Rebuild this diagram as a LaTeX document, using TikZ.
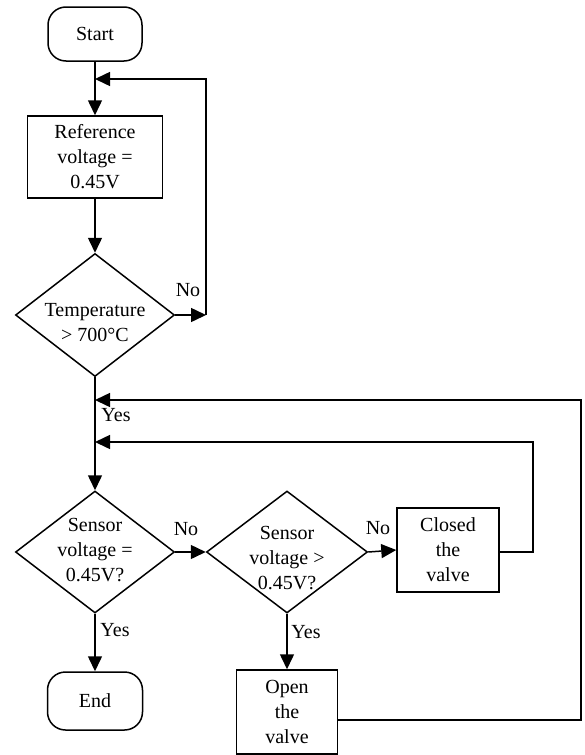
\documentclass[tikz,border=0pt]{standalone}
\usepackage{fontspec}
\setmainfont{Liberation Serif}
\usetikzlibrary{shapes.geometric,arrows.meta}
\begin{document}
\begin{tikzpicture}[x=1pt,y=-1pt,line width=1.5pt,
  font=\fontsize{20}{25}\selectfont,
  term/.style={draw,rectangle,rounded corners=18pt,inner sep=0pt,align=center},
  proc/.style={draw,rectangle,inner sep=0pt,align=center},
  dec/.style={draw,diamond,inner sep=0pt},
  txt/.style={inner sep=0pt,align=center},
  lbl/.style={inner sep=0pt},
  arr/.style={-{Triangle[length=15pt,width=14pt]}}]
\useasboundingbox (0,0) rectangle (584,755);
% nodes
\node[term,minimum width=94pt,minimum height=54pt] (start) at (95,34) {Start};
\node[proc,minimum width=135pt,minimum height=82pt] (ref) at (95,157) {Reference\\voltage =\\0.45V};
\node[dec,minimum width=159pt,minimum height=123pt] (temp) at (95,315) {};
\node[txt] (tempt) at (95,323) {Temperature\\> 700°C};
\node[dec,minimum width=159pt,minimum height=122pt] (s1) at (95,552) {};
\node[txt] (s1t) at (95,550) {Sensor\\voltage =\\0.45V?};
\node[dec,minimum width=161pt,minimum height=122pt] (s2) at (287,552) {};
\node[txt] (s2t) at (287,558) {Sensor\\voltage >\\0.45V?};
\node[proc,minimum width=102pt,minimum height=84pt] (closed) at (448,550) {Closed\\the\\valve};
\node[proc,minimum width=101pt,minimum height=84pt] (open) at (287,712) {Open\\the\\valve};
\node[term,minimum width=95pt,minimum height=58pt] (end) at (95,701) {End};
% labels
\node[lbl] (no1) at (188,290) {No};
\node[lbl] (yes1) at (116,415) {Yes};
\node[lbl] (no2) at (186,529) {No};
\node[lbl] (no3) at (378,528) {No};
\node[lbl] (yes2) at (115,630) {Yes};
\node[lbl] (yes3) at (306,632) {Yes};
% merge coordinates
\coordinate (m1) at (95,79);
\coordinate (m2) at (95,400);
\coordinate (m3) at (95,442);
\coordinate (c1) at (206,315);
\coordinate (c2) at (533,552);
\coordinate (c3) at (581,720);
% connectors
\draw[arr] (start.south) -- (ref.north);
\draw[arr] (ref.south) -- (temp.north);
\draw[arr] (temp.east) -- (c1);
\draw[arr] (c1) |- (m1);
\draw[arr] (temp.south) -- (s1.north);
\draw[arr] (s1.east) -- (s2.west);
\draw[arr] (s2.east) -- (closed.west);
\draw[arr] (closed.east |- c2) -- (c2) |- (m3);
\draw[arr] (s2.south) -- (open.north);
\draw[arr] (open.east |- c3) -- (c3) |- (m2);
\draw[arr] (s1.south) -- (end.north);
\end{tikzpicture}
\end{document}
